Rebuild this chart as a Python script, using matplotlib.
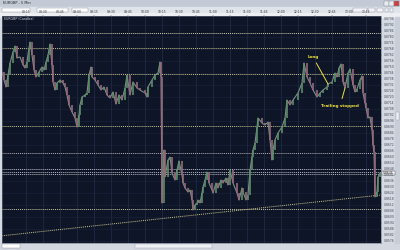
import numpy as np
import matplotlib
matplotlib.use("Agg")
import matplotlib.pyplot as plt
from matplotlib.patches import Rectangle

# price trace (bar position, close)
bars = [2, 4, 6, 8, 10, 13, 15, 17, 20, 23, 25, 27, 29, 30, 32, 34, 36, 39, 42, 44,
        46, 48, 50, 52, 53, 55, 57, 60, 63, 65, 67, 69, 72, 75, 77, 79, 80, 82, 85, 87,
        89, 91, 92, 95, 98, 101, 104, 107, 110, 113, 116, 119, 122, 125, 127, 130, 133, 137, 140, 145,
        147, 148, 152, 155, 158, 160, 161, 162, 164, 165, 168, 170, 172, 175, 177, 179, 182, 183, 185, 188,
        190, 192, 193, 195, 197, 198, 200, 202, 203, 205, 207, 209, 212, 213, 216, 218, 221, 223, 226, 228,
        230, 233, 237, 239, 242, 243, 246, 248, 250, 252, 253, 255, 257, 258, 262, 265, 268, 270, 272, 273,
        275, 278, 282, 285, 287, 290, 293, 298, 302, 304, 307, 310, 313, 317, 320, 323, 327, 328, 332, 335,
        337, 339, 341, 343, 345, 348, 350, 353, 355, 357, 360, 362, 363, 365, 366, 368, 370, 372, 373, 374,
        375, 377, 378, 380]
closes = [8745, 8737, 8730, 8742, 8754, 8765, 8771, 8759, 8760, 8752, 8749, 8755, 8769, 8775, 8762, 8747, 8740, 8745, 8750, 8747,
          8755, 8762, 8773, 8752, 8735, 8727, 8734, 8737, 8734, 8730, 8722, 8712, 8705, 8699, 8690, 8702, 8712, 8720, 8722, 8724,
          8742, 8750, 8740, 8737, 8732, 8727, 8730, 8722, 8719, 8725, 8713, 8722, 8717, 8729, 8742, 8722, 8735, 8729, 8727, 8724,
          8720, 8730, 8737, 8742, 8744, 8755, 8740, 8614, 8667, 8640, 8657, 8660, 8644, 8637, 8647, 8656, 8642, 8634, 8629, 8625,
          8627, 8617, 8607, 8612, 8614, 8617, 8614, 8624, 8630, 8637, 8645, 8634, 8627, 8624, 8634, 8629, 8637, 8634, 8639, 8632,
          8647, 8634, 8624, 8617, 8629, 8625, 8617, 8622, 8647, 8660, 8667, 8674, 8690, 8699, 8694, 8692, 8695, 8677, 8657, 8667,
          8677, 8684, 8690, 8699, 8717, 8712, 8717, 8724, 8734, 8754, 8740, 8734, 8727, 8720, 8724, 8727, 8730, 8733, 8735, 8744,
          8740, 8749, 8753, 8735, 8729, 8744, 8748, 8732, 8725, 8728, 8737, 8741, 8724, 8714, 8709, 8699, 8700, 8687, 8672, 8665,
          8620, 8625, 8640, 8644]
closes = [c / 10000 for c in closes]

levels = [0.8784, 0.8769, 0.8743, 0.8691, 0.8664, 0.8648, 0.86455, 0.86435, 0.8608]
level_colors = ['#d0ceb0', '#c9c48c', '#c9c48c', '#c9c48c', '#b4b4b8', '#b8bac2', '#b8bac2', '#b8bac2', '#c8c4a4']
trend_x = [0, 381]
trend_y = [0.8581, 0.8622]

price_ticks = np.arange(0.8576, 0.8800, 0.0006)
time_ticks = [26, 43, 60, 77, 94, 111, 128, 145, 162, 179, 196, 213, 230, 247, 264, 281, 298, 315, 332, 349, 366]
time_labels = ['08:15', '08:30', '08:45', '09:00', '09:15', '09:30', '09:45', '10:00', '10:15', '10:30', '10:45',
               '11:00', '11:15', '11:30', '11:45', '12:00', '12:15', '12:30', '12:45', '13:00', '13:15']

fig = plt.figure(figsize=(4, 2.5), dpi=100)

# window chrome, in pixel coordinates
bg = fig.add_axes([0, 0, 1, 1])
bg.set_xlim(0, 400)
bg.set_ylim(250, 0)
bg.axis('off')
bg.add_patch(Rectangle((0, 0), 400, 250, color='#d4d9e2'))
bg.add_patch(Rectangle((0, 0), 400, 7, color='#c3cad6'))
bg.add_patch(Rectangle((0, 7), 400, 6, color='#dfe3ea'))
bg.add_patch(Rectangle((0, 13), 400, 3.5, color='#eceef2'))
bg.text(3, 3.5, 'EURGBP - 5 Min', fontsize=2.5, va='center', color='#222222')
for x0, w in [(2, 28), (37, 31), (72, 16)]:
    bg.add_patch(Rectangle((x0, 8), w, 4, facecolor='white', edgecolor='#8890a0', lw=0.3))
for x0, w in [(353, 14), (368, 7), (377, 6), (385, 3), (390, 3)]:
    bg.add_patch(Rectangle((x0, 8), w, 4, facecolor='#f2f3f6', edgecolor='#8890a0', lw=0.3))
for x0, c in [(384, '#e8ebf0'), (389, '#e8ebf0'), (394, '#d04040')]:
    bg.add_patch(Rectangle((x0, 1), 5, 4.5, facecolor=c, edgecolor='#7a8090', lw=0.3))
# bottom scroll bar and right scroll bar
bg.add_patch(Rectangle((0, 243), 400, 7, color='#d2d7e0'))
bg.add_patch(Rectangle((2, 244), 18, 4, facecolor='white', edgecolor='#8890a0', lw=0.3))
bg.add_patch(Rectangle((135, 244), 77, 4, facecolor='#eef0f4', edgecolor='#9aa2b0', lw=0.3))
bg.add_patch(Rectangle((395, 17), 5, 226, color='#c8ced8'))
bg.add_patch(Rectangle((395.5, 112), 3.5, 8, facecolor='#eef0f4', edgecolor='#9aa2b0', lw=0.3))

ax = fig.add_axes([2 / 400, 7 / 250, 379 / 400, 227 / 250])
ax.set_facecolor('#0e1526')
ax.set_xlim(2, 381)
ax.set_ylim(0.8574, 0.8801)

# grid
for t in time_ticks:
    ax.axvline(t, color='#22304c', lw=0.5, zorder=0)
for p in price_ticks[::2]:
    ax.axhline(p, color='#1a2540', lw=0.4, zorder=0)

# support / resistance levels
for lv, c in zip(levels, level_colors):
    ax.axhline(lv, color=c, lw=0.7, ls=(0, (1, 1)), zorder=1)
ax.plot(trend_x, trend_y, color='#c9c48c', lw=0.7, ls=(0, (1, 1)), zorder=1)

# candles
opens = [closes[0]] + closes[:-1]
up_col, dn_col = '#5c8f68', '#96687a'
cols = [up_col if c >= o else dn_col for o, c in zip(opens, closes)]
ax.plot(bars, closes, color='#808a8c', lw=0.8, zorder=2)
ax.vlines(bars, opens, closes, colors=cols, lw=1.2, zorder=3)

# annotations
ax.annotate('Long', xy=(328, 0.8733), xytext=(313, 0.8760), color='#f0e040', fontsize=3,
            fontweight='bold', ha='center', va='center',
            arrowprops=dict(arrowstyle='-', color='#f0e040', lw=0.7, shrinkA=1, shrinkB=0))
ax.annotate('Trailing stopped', xy=(345, 0.8729), xytext=(340, 0.8711), color='#f0e040', fontsize=3,
            fontweight='bold', ha='center', va='center',
            arrowprops=dict(arrowstyle='-', color='#f0e040', lw=0.7, shrinkA=2, shrinkB=0))
ax.text(4, 0.87995, 'EURGBP (Candles)', color='#d8dce8', fontsize=2.3, va='top')

# axes: price on the right, time on top
ax.yaxis.tick_right()
ax.set_yticks(price_ticks)
ax.set_yticklabels([f'{p:.4f}' for p in price_ticks])
ax.tick_params(axis='y', labelsize=2.2, colors='#444a55', length=1, width=0.3, pad=1)
ax.xaxis.tick_top()
ax.set_xticks(time_ticks)
ax.set_xticklabels(time_labels)
ax.tick_params(axis='x', labelsize=2.2, colors='#333333', length=1, width=0.3, pad=0.5)
for s in ax.spines.values():
    s.set_color('#6a7284')
    s.set_linewidth(0.4)

# current price marker on the price scale
bg.add_patch(Rectangle((381.5, 170.5), 13, 4, facecolor='#ffffff', edgecolor='#303540', lw=0.3, zorder=5))
bg.text(388, 172.5, f'{closes[-1]:.4f}', fontsize=2.2, ha='center', va='center', color='#111111', zorder=6)

fig.savefig('out.png', dpi=100)
